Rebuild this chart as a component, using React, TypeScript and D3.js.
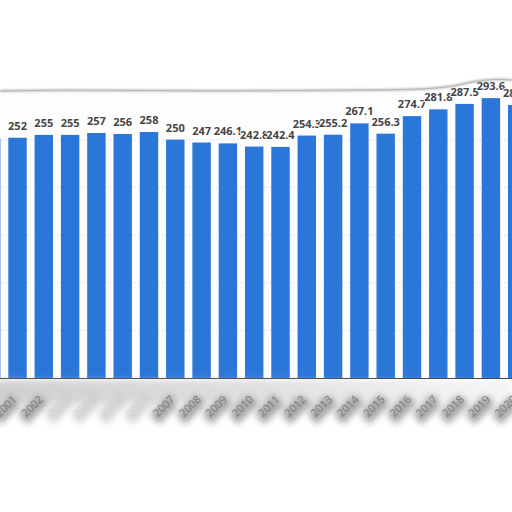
import * as d3 from 'd3';

const years = [
  '2000', '2001', '2002', '2003', '2004', '2005', '2006', '2007', '2008', '2009', '2010',
  '2011', '2012', '2013', '2014', '2015', '2016', '2017', '2018', '2019', '2020',
];
const values = [
  251, 252, 255, 255, 257, 256, 258, 250, 247, 246.1, 242.8,
  242.4, 254.3, 255.2, 267.1, 256.3, 274.7, 281.8, 287.5, 293.6, 286.4,
];
const gridTicks = [50, 100, 150, 200, 250];
const fadedYears = ['2003', '2004', '2005', '2006'];

const W = 512;
const H = 512;
const BASE = 378;

const fmt = (v: number) => (Number.isInteger(v) ? String(v) : v.toFixed(1));

export default function App() {
  const x = d3
    .scaleBand<string>()
    .domain(years)
    .range([-18, 526.4])
    .paddingInner(0.3)
    .paddingOuter(0);
  const y = d3.scaleLinear().domain([0, 300]).range([BASE, 92]);
  const bw = x.bandwidth();
  const cx = (yr: string) => (x(yr) ?? 0) + bw / 2;

  // torn top edge
  const edge = d3.line().curve(d3.curveBasis)([
    [0, 91], [60, 90], [140, 90.5], [220, 91], [300, 90.5], [380, 90],
    [430, 89], [455, 86], [475, 81], [495, 79], [512, 80],
  ]) as string;

  // wavy bottom shadow outline under tick labels
  const shadowPts: [number, number][] = [[0, 380]];
  years.forEach((yr, i) => {
    const c = cx(yr);
    shadowPts.push([c - 20, i < 10 ? 404 : 412]);
    shadowPts.push([c - 6, i < 10 ? 398 : 402]);
  });
  shadowPts.push([512, 422], [512, 380]);
  const shadow = d3.line().curve(d3.curveCatmullRom)(shadowPts) as string;

  const tickY = 400;

  return (
    <svg width={W} height={H} style={{ position: 'absolute', left: 0, top: 0, background: '#fff' }}>
      <defs>
        <filter id="blur3" x="-10%" y="-50%" width="120%" height="200%">
          <feGaussianBlur stdDeviation="3" />
        </filter>
        <filter id="blur1" x="-10%" y="-50%" width="120%" height="200%">
          <feGaussianBlur stdDeviation="1" />
        </filter>
        <linearGradient id="band" x1="0" x2="1" y1="0" y2="0">
          <stop offset="0" stopColor="#b8b8b8" stopOpacity={1} />
          <stop offset="0.55" stopColor="#c8c8c8" stopOpacity={0.8} />
          <stop offset="1" stopColor="#d8d8d8" stopOpacity={0.35} />
        </linearGradient>
      </defs>

      {/* paper */}
      <rect x={0} y={85} width={W} height={BASE - 85} fill="#fdfdfd" />

      {/* grid */}
      {gridTicks.map((t) => (
        <line
          key={t}
          x1={0}
          x2={W}
          y1={y(t)}
          y2={y(t)}
          stroke="#d4d4d4"
          strokeWidth={1}
          strokeDasharray="1,2"
        />
      ))}

      {/* bars */}
      {years.map((yr, i) => (
        <rect
          key={yr}
          x={x(yr)}
          y={y(values[i])}
          width={bw}
          height={BASE - y(values[i])}
          fill="#2b76d9"
        />
      ))}
      <line x1={0} x2={W} y1={BASE + 0.5} y2={BASE + 0.5} stroke="#3a3a3a" strokeWidth={1} />

      {/* value labels */}
      {years.map((yr, i) => (
        <text
          key={yr}
          x={cx(yr)}
          y={y(values[i]) - 8}
          textAnchor="middle"
          fontFamily="'Open Sans', sans-serif"
          fontWeight={700}
          fontSize={11}
          fill="#454545"
          stroke="#fdfdfd"
          strokeWidth={2}
          paintOrder="stroke"
        >
          {fmt(values[i])}
        </text>
      ))}

      {/* torn top: cover above edge */}
      <path d={`${edge} L512,0 L0,0 Z`} fill="#fff" />
      <path d={edge} fill="none" stroke="#999" strokeWidth={2} filter="url(#blur1)" opacity={0.7} />
      <path d={edge} fill="none" stroke="#b8b8b8" strokeWidth={1} />

      {/* torn bottom strip with shadow */}
      <g filter="url(#blur3)">
        <path d={shadow} fill="url(#band)" opacity={0.7} />
        {years.map((yr) => (
          <text
            key={yr}
            x={cx(yr) + 1}
            y={tickY + 3}
            transform={`rotate(-45, ${cx(yr) + 1}, ${tickY + 3})`}
            textAnchor="end"
            fontFamily="'Open Sans', sans-serif"
            fontSize={11}
            fill="#999"
            stroke="#999"
            strokeWidth={6}
            opacity={fadedYears.includes(yr) ? 0.4 : 0.85}
          >
            {yr}
          </text>
        ))}
      </g>
      {years.map((yr) => (
        <text
          key={yr}
          x={cx(yr)}
          y={tickY}
          transform={`rotate(-45, ${cx(yr)}, ${tickY})`}
          textAnchor="end"
          fontFamily="'Open Sans', sans-serif"
          fontSize={11}
          fill={fadedYears.includes(yr) ? '#d2d2d2' : '#7a7a7a'}
        >
          {yr}
        </text>
      ))}
    </svg>
  );
}
